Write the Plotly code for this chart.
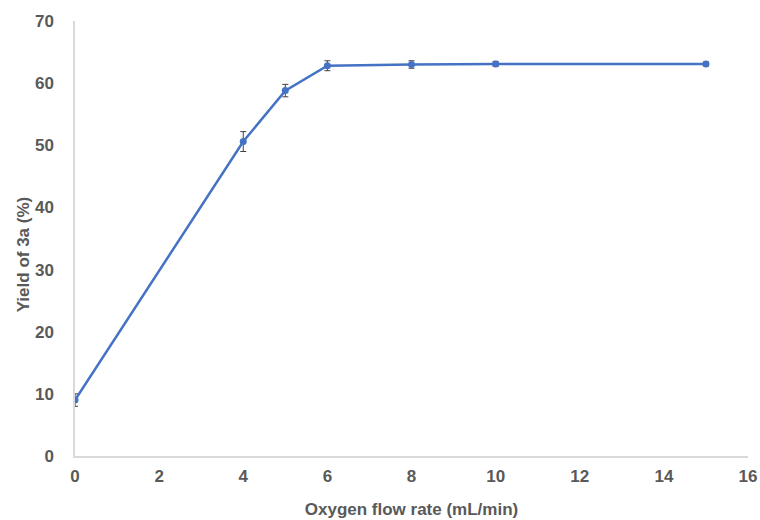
import plotly.graph_objects as go

flow_rate = [0, 4, 5, 6, 8, 10, 15]
yield_pct = [9.0, 50.6, 58.8, 62.8, 63.0, 63.1, 63.1]
yield_err = [1.0, 1.6, 1.0, 0.8, 0.6, 0.4, 0.3]

x_ticks = [0, 2, 4, 6, 8, 10, 12, 14, 16]
y_ticks = [0, 10, 20, 30, 40, 50, 60, 70]

fig = go.Figure()
fig.add_trace(go.Scatter(
    x=flow_rate, y=yield_pct,
    mode="lines+markers",
    line=dict(color="#4472C4", width=2.5),
    marker=dict(color="#4472C4", size=7, symbol="circle"),
    error_y=dict(type="data", array=yield_err, visible=True,
                 color="#404040", thickness=1, width=3),
    showlegend=False,
))

font_col = "#595959"
fig.update_layout(
    width=760, height=520,
    margin=dict(l=75, r=12, t=21, b=64),
    plot_bgcolor="white", paper_bgcolor="white",
    font=dict(family="Liberation Sans, Arial, sans-serif", color=font_col),
)
fig.update_xaxes(
    range=[0, 16], tickvals=x_ticks, ticktext=[f"<b>{t}</b>" for t in x_ticks],
    showgrid=False, zeroline=False, showline=True, linecolor="#D9D9D9", linewidth=1.5,
    ticks="", tickfont=dict(size=17, color=font_col), ticklabelstandoff=4,
    automargin=False,
    title=dict(text="<b>Oxygen flow rate (mL/min)</b>", font=dict(size=17, color=font_col), standoff=18),
)
fig.update_yaxes(
    range=[0, 70], tickvals=y_ticks, ticktext=[f"<b>{t}</b>" for t in y_ticks],
    showgrid=False, zeroline=False, showline=True, linecolor="#D9D9D9", linewidth=1.5,
    ticks="", tickfont=dict(size=17, color=font_col), ticklabelstandoff=16,
    automargin=False,
)
fig.add_annotation(
    text="<b>Yield of 3a (%)</b>", textangle=-90,
    xref="paper", yref="paper", x=-0.077, y=0.464,
    xanchor="center", yanchor="middle", showarrow=False,
    font=dict(size=17, color=font_col),
)

fig.write_html(
    "out.html",
    config={"displayModeBar": False},
    post_script="document.body.style.margin='0';document.body.style.overflow='hidden';",
)
